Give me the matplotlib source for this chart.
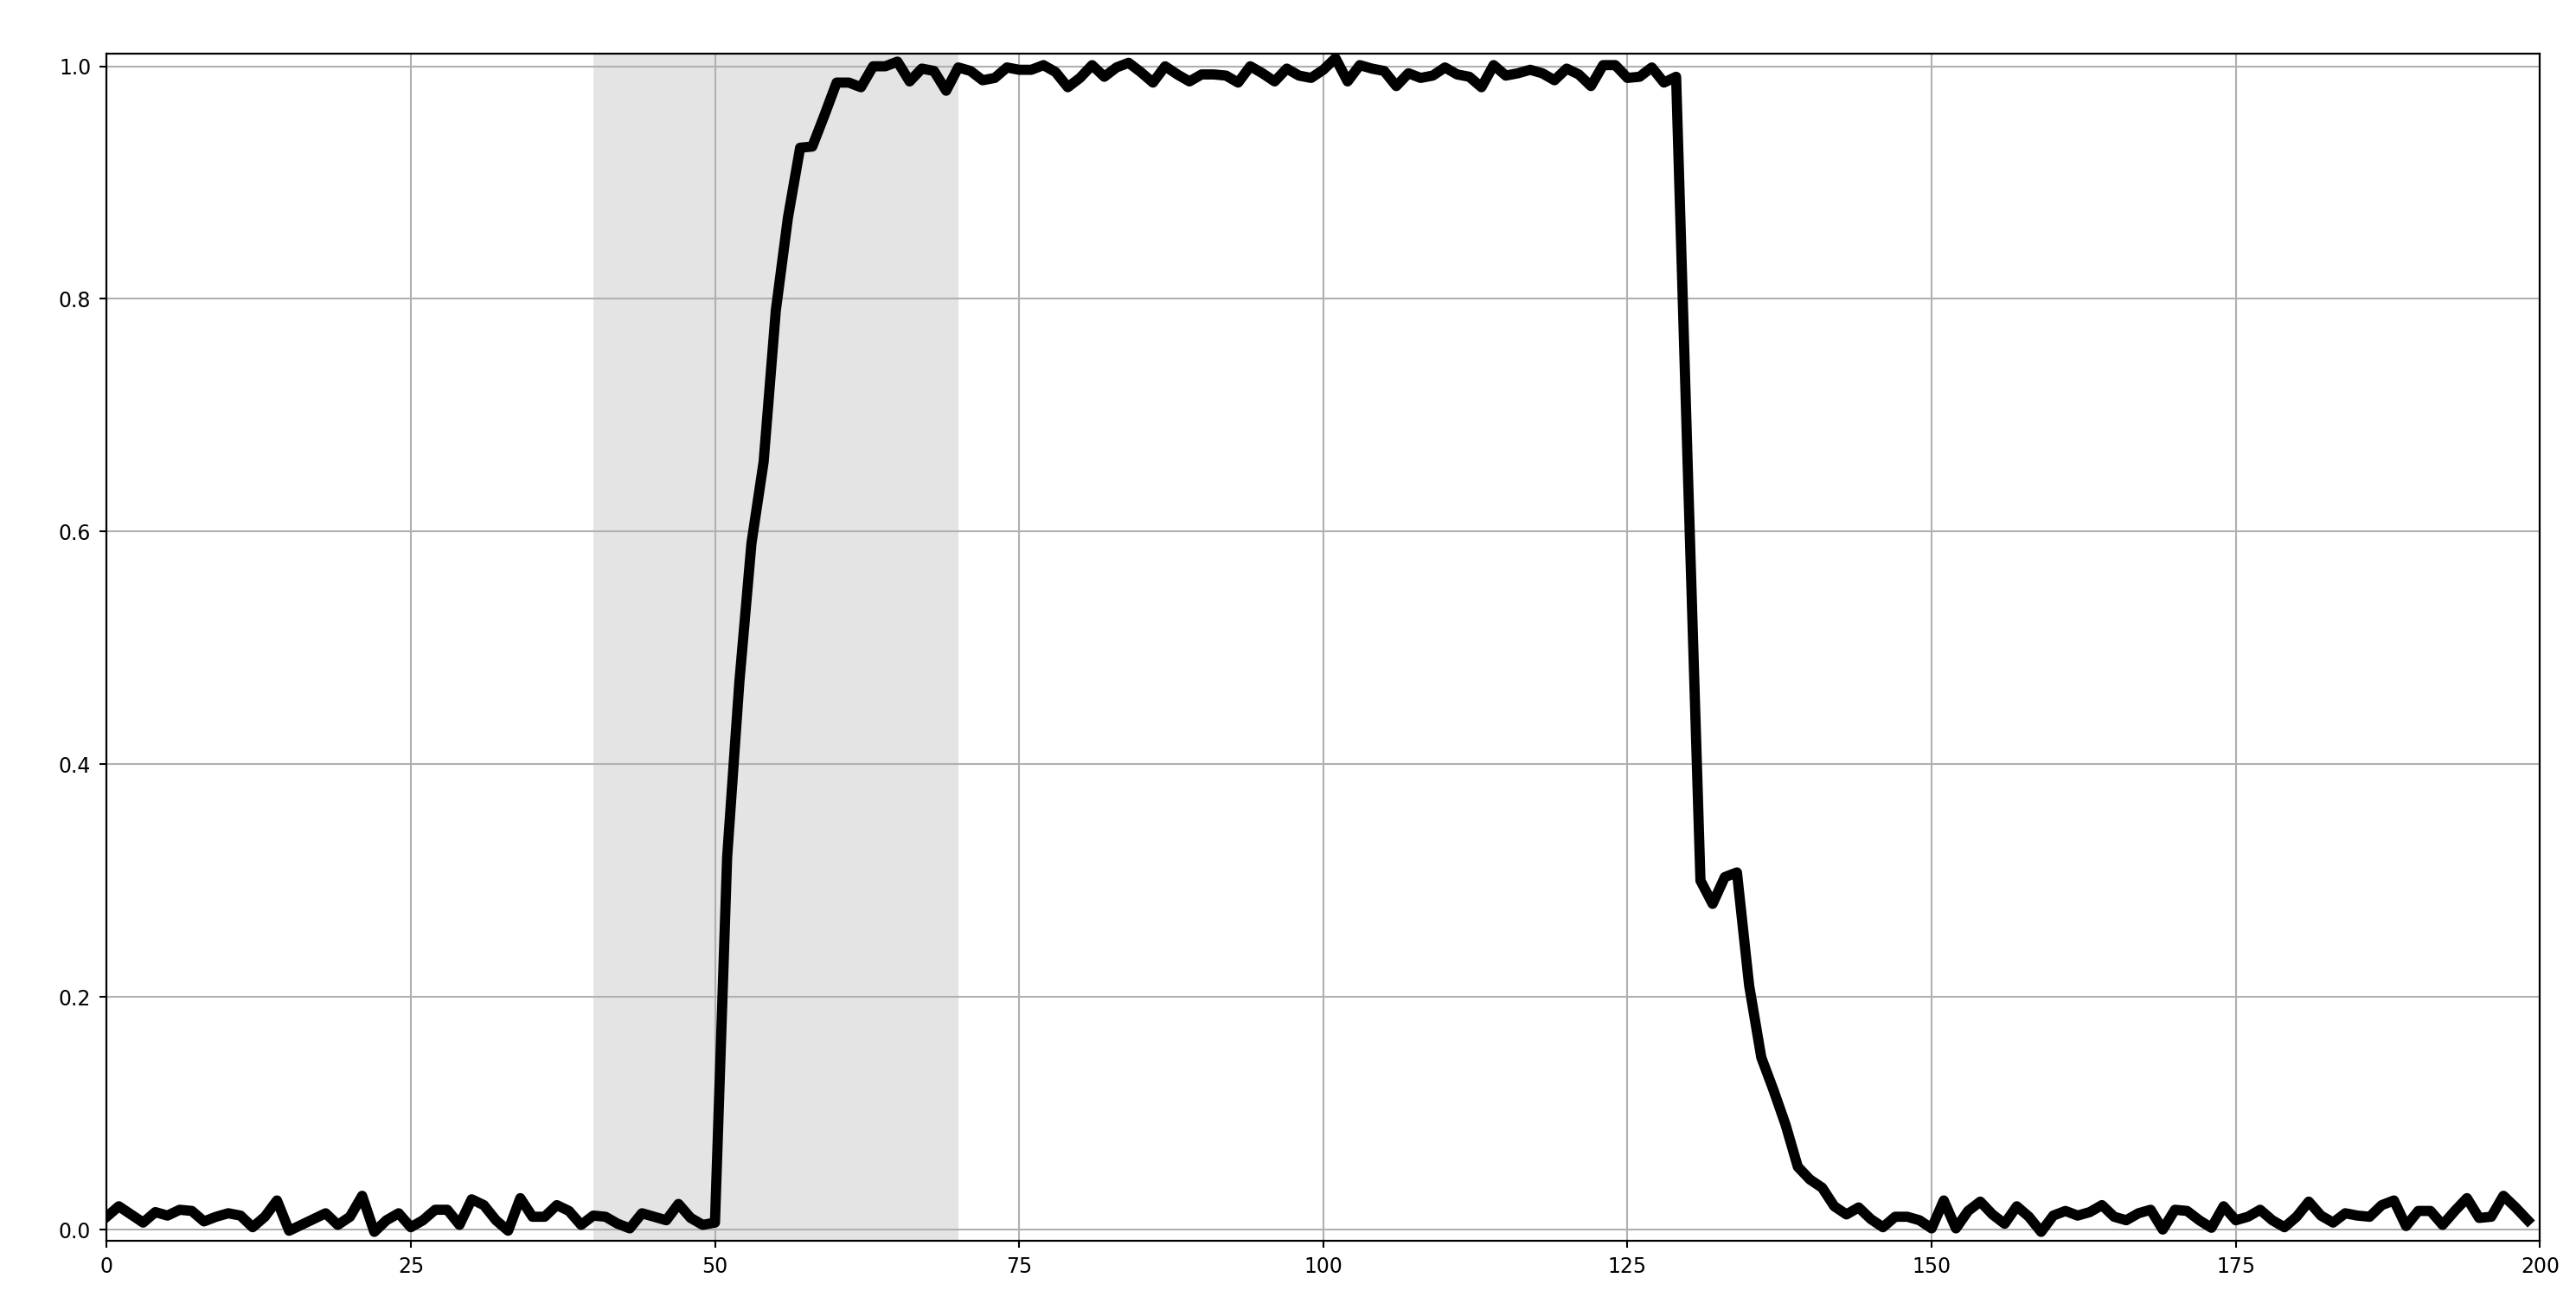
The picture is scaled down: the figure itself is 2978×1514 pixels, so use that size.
import numpy as np
import matplotlib
matplotlib.use("Agg")
import matplotlib.pyplot as plt

# valorile, un punct pentru fiecare x = 0..199
zgomot_inceput = [0.011, 0.020, 0.013, 0.006, 0.015, 0.012, 0.017, 0.016, 0.007, 0.011,
                  0.014, 0.012, 0.002, 0.011, 0.025, -0.001, 0.004, 0.009, 0.014, 0.004,
                  0.011, 0.029, -0.002, 0.008, 0.014, 0.002, 0.008, 0.017, 0.017, 0.004,
                  0.026, 0.021, 0.008, -0.001, 0.027, 0.011, 0.011, 0.021, 0.016, 0.004,
                  0.012, 0.011, 0.005, 0.001, 0.014, 0.011, 0.008, 0.022, 0.010, 0.004,
                  0.006]
crestere = [0.32, 0.47, 0.59, 0.66, 0.79, 0.87, 0.93, 0.931, 0.958]
platou = [0.986, 0.986, 0.982, 1.000, 1.000, 1.004, 0.987, 0.998, 0.996, 0.979,
          0.999, 0.996, 0.988, 0.990, 0.999, 0.997, 0.997, 1.001, 0.995, 0.982,
          0.990, 1.001, 0.991, 0.999, 1.003, 0.995, 0.986, 1.000, 0.993, 0.987,
          0.993, 0.993, 0.992, 0.986, 1.000, 0.994, 0.987, 0.998, 0.992, 0.990,
          0.997, 1.007, 0.987, 1.001, 0.998, 0.996, 0.983, 0.994, 0.990, 0.992,
          0.999, 0.993, 0.991, 0.982, 1.001, 0.992, 0.994, 0.997, 0.994, 0.988,
          0.998, 0.993, 0.983, 1.001, 1.001, 0.990, 0.991, 0.999, 0.986, 0.991]
scadere = [0.64, 0.30, 0.28, 0.303, 0.307, 0.21, 0.148, 0.12, 0.09, 0.054,
           0.043, 0.036, 0.020, 0.013]
zgomot_sfarsit = [0.019, 0.009, 0.002, 0.011, 0.011, 0.008, 0.001, 0.025, 0.001, 0.016,
                  0.024, 0.013, 0.005, 0.020, 0.011, -0.002, 0.012, 0.016, 0.012, 0.015,
                  0.021, 0.011, 0.008, 0.014, 0.017, 0.000, 0.017, 0.016, 0.008, 0.0015,
                  0.020, 0.008, 0.011, 0.017, 0.008, 0.002, 0.011, 0.024, 0.012, 0.006,
                  0.014, 0.012, 0.011, 0.021, 0.025, 0.003, 0.016, 0.016, 0.004, 0.016,
                  0.027, 0.010, 0.011, 0.029, 0.019, 0.008]

semnal = zgomot_inceput + crestere + platou + scadere + zgomot_sfarsit
x = np.arange(len(semnal))

zona = [40, 70]  # intervalul umbrit
x_ticks = [0, 25, 50, 75, 100, 125, 150, 175, 200]
y_ticks = [0.0, 0.2, 0.4, 0.6, 0.8, 1.0]

fig = plt.figure(figsize=(29.78, 15.14), dpi=100)
ax = fig.add_axes([0.0414, 0.0528, 0.9446, 0.9061])

ax.axvspan(zona[0], zona[1], color="#e4e4e4", lw=0)
ax.plot(x, semnal, color="black", lw=8.5)

ax.set_xlim(0, 200)
ax.set_ylim(-0.0097, 1.0107)
ax.set_xticks(x_ticks)
ax.set_yticks(y_ticks)
ax.set_yticklabels(["%.1f" % v for v in y_ticks])
ax.grid(True, color="#b0b0b0", lw=1.5)
ax.tick_params(labelsize=17, length=6, width=1.5, pad=7)
for s in ax.spines.values():
    s.set_linewidth(1.6)

fig.savefig("out.png", dpi=100)
